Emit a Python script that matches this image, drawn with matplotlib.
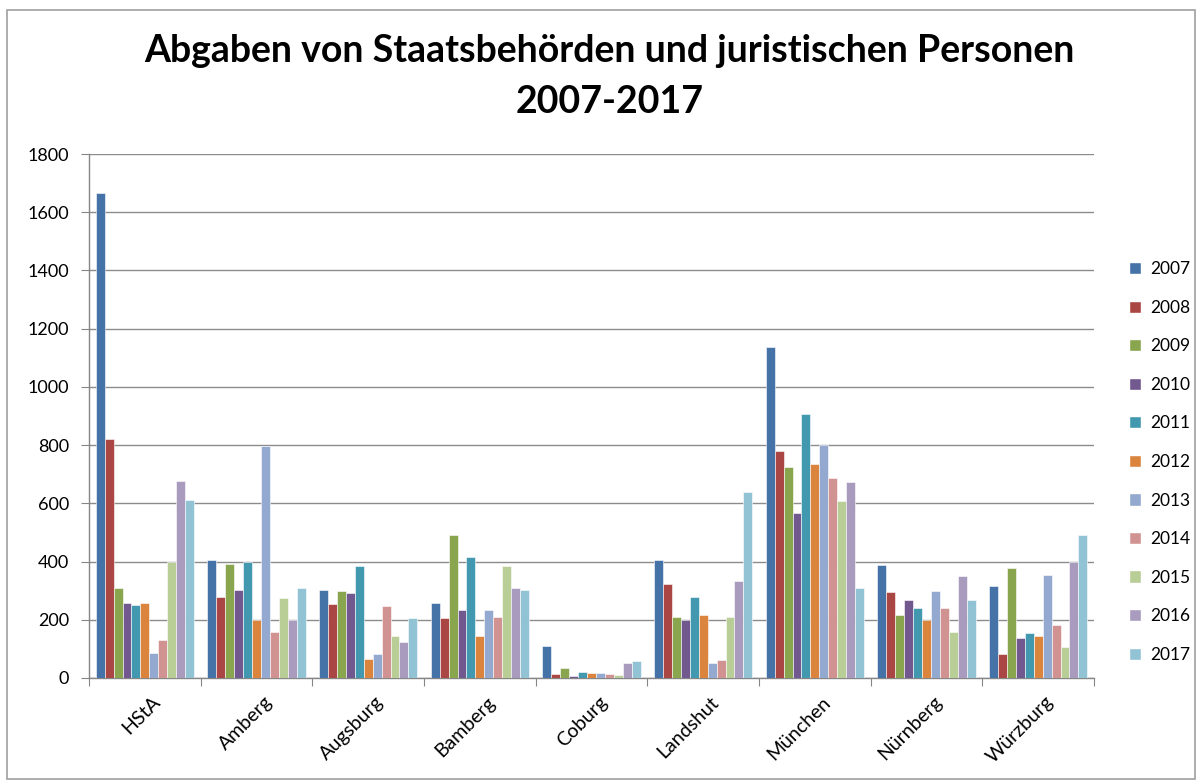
import matplotlib
matplotlib.use("Agg")
import matplotlib.pyplot as plt
import matplotlib.transforms as mtransforms
import numpy as np
from matplotlib.patches import Patch, Rectangle

plt.rcParams['font.family'] = ['Lato', 'DejaVu Sans']

categories = ["HStA", "Amberg", "Augsburg", "Bamberg", "Coburg", "Landshut",
              "München", "Nürnberg", "Würzburg"]
years = ["2007", "2008", "2009", "2010", "2011", "2012", "2013", "2014",
         "2015", "2016", "2017"]
# values per year, across categories
v2007 = [1667, 405, 303, 258, 111, 406, 1136, 387, 317]
v2008 = [820, 277, 254, 207, 14, 322, 780, 294, 84]
v2009 = [310, 391, 299, 492, 35, 211, 726, 215, 377]
v2010 = [258, 303, 292, 234, 7, 199, 566, 267, 137]
v2011 = [250, 397, 385, 414, 22, 277, 907, 242, 154]
v2012 = [258, 199, 66, 144, 18, 215, 736, 199, 144]
v2013 = [87, 796, 84, 234, 18, 51, 802, 299, 355]
v2014 = [129, 159, 247, 211, 14, 63, 687, 241, 181]
v2015 = [397, 274, 144, 385, 12, 211, 608, 159, 107]
v2016 = [678, 199, 122, 310, 51, 334, 674, 351, 397]
v2017 = [611, 310, 206, 303, 59, 640, 310, 269, 492]
series = [v2007, v2008, v2009, v2010, v2011, v2012, v2013, v2014, v2015, v2016, v2017]

colors = ["#4572A7", "#AA4643", "#89A54E", "#71588F", "#4198AF", "#DB843D",
          "#93A9CF", "#D19392", "#B9CD96", "#A99BBD", "#92C3D5"]

fig = plt.figure(figsize=(12, 7.82), dpi=100)
ax = fig.add_axes([0.0742, 0.133, 0.8375, 0.670])

n = len(years)
bw = 0.08
x = np.arange(len(categories))
for i, (vals, c) in enumerate(zip(series, colors)):
    offs = (i - (n - 1) / 2) * bw
    ax.bar(x + offs, vals, width=bw, color=c, edgecolor='white', linewidth=0.4,
           label=years[i], zorder=3)

ax.set_xlim(-0.5, len(categories) - 0.5)
ax.set_ylim(0, 1800)
ax.set_yticks(np.arange(0, 1801, 200))
ax.tick_params(axis='y', labelsize=13, length=5.5, color='#868686', direction='out', pad=9)
ax.yaxis.grid(True, color='#8c8c8c', linewidth=1.0, zorder=0)
ax.set_axisbelow(True)

ax.set_xticks(np.arange(-0.5, len(categories), 1.0))
ax.set_xticklabels([])
ax.tick_params(axis='x', length=6, color='#868686', direction='out')
ax.set_xticks(x, minor=True)
ax.set_xticklabels(categories, minor=True, rotation=45, ha='right',
                   rotation_mode='anchor', fontsize=14)
ax.tick_params(axis='x', which='minor', length=0, pad=11)
shift = mtransforms.ScaledTranslation(5 / 72, 0, fig.dpi_scale_trans)
for lab in ax.get_xticklabels(minor=True):
    lab.set_transform(lab.get_transform() + shift)

for s in ['top', 'right']:
    ax.spines[s].set_visible(False)
for s in ['left', 'bottom']:
    ax.spines[s].set_color('#868686')
    ax.spines[s].set_linewidth(1.0)

fig.text(0.508, 0.935, "Abgaben von Staatsbehörden und juristischen Personen",
         ha='center', va='center', fontsize=27, fontweight='bold')
fig.text(0.508, 0.870, "2007-2017", ha='center', va='center', fontsize=27,
         fontweight='bold')

handles = [Patch(facecolor=c, edgecolor='white', label=y) for c, y in zip(colors, years)]
fig.legend(handles=handles, loc='upper left', bbox_to_anchor=(0.935, 0.675),
           frameon=False, fontsize=12.5, handlelength=0.7, handleheight=0.7,
           handletextpad=0.5, labelspacing=1.3, borderaxespad=0)

fig.patches.append(Rectangle((0.006, 0.004), 0.99, 0.983, transform=fig.transFigure,
                             fill=False, edgecolor='#a0a0a0', linewidth=1.2))

fig.savefig("out.png", dpi=100, facecolor='white')
